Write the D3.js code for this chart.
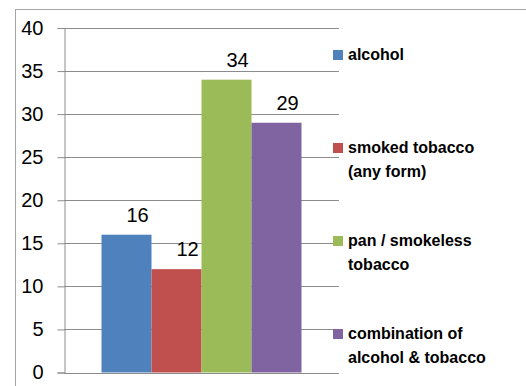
<!DOCTYPE html>
<html>
<head>
<meta charset="utf-8">
<script src="https://cdn.jsdelivr.net/npm/d3@7"></script>
<style>
  html, body { margin: 0; padding: 0; background: #fff; }
  svg { display: block; }
</style>
</head>
<body>
<div id="chart"></div>
<script>
// Share of cases by type of substance use
const categories = ["Substance use"];
const seriesNames = ["alcohol", "smoked tobacco (any form)", "pan / smokeless tobacco", "combination of alcohol & tobacco"];
const legendLines = [["alcohol"], ["smoked tobacco", "(any form)"], ["pan / smokeless", "tobacco"], ["combination of", "alcohol & tobacco"]];
const seriesValues = [16, 12, 34, 29];
const seriesColors = ["#4F81BD", "#C0504D", "#9BBB59", "#8064A2"];
const yTicks = [0, 5, 10, 15, 20, 25, 30, 35, 40];

const W = 526, H = 386;
const plot = { left: 64, right: 339, top: 28, bottom: 372.5 };

const svg = d3.select("#chart").append("svg")
  .attr("width", W).attr("height", H);

// Chart frame
svg.append("rect")
  .attr("x", 15.5).attr("y", 9.5)
  .attr("width", W).attr("height", H)
  .attr("fill", "#fff").attr("stroke", "#a6a6a6").attr("stroke-width", 1);

const y = d3.scaleLinear().domain([0, 40]).range([plot.bottom, plot.top]);

const x0 = d3.scaleBand().domain(categories)
  .range([plot.left, plot.right]).paddingInner(0).paddingOuter(0.1875);
const x1 = d3.scaleBand().domain(seriesNames)
  .range([0, x0.bandwidth()]).padding(0);

// Horizontal gridlines
svg.append("g").selectAll("line").data(yTicks.filter(t => t > 0)).join("line")
  .attr("x1", plot.left).attr("x2", plot.right)
  .attr("y1", d => Math.round(y(d)) + 0.5).attr("y2", d => Math.round(y(d)) + 0.5)
  .attr("stroke", "#8c8c8c").attr("stroke-width", 1);

// Value axis with outward ticks
const yAxis = d3.axisLeft(y).tickValues(yTicks).tickSize(7).tickPadding(14);
const yg = svg.append("g")
  .attr("transform", `translate(${plot.left + 0.5},0)`)
  .call(yAxis);
yg.select(".domain").attr("stroke", "#8c8c8c");
yg.selectAll(".tick line").attr("stroke", "#8c8c8c");
yg.selectAll(".tick text")
  .attr("fill", "#000")
  .style("font-family", "'Liberation Sans', Arial, sans-serif")
  .style("font-size", "20px");

// Bars
const g = svg.append("g").attr("transform", `translate(${x0(categories[0])},0)`);
g.selectAll("rect").data(seriesValues).join("rect")
  .attr("x", (d, i) => x1(seriesNames[i]))
  .attr("y", d => y(d))
  .attr("width", x1.bandwidth())
  .attr("height", d => y(0) - y(d))
  .attr("fill", (d, i) => seriesColors[i]);

// Category baseline
svg.append("line")
  .attr("x1", plot.left).attr("x2", plot.right)
  .attr("y1", Math.round(y(0)) + 0.5).attr("y2", Math.round(y(0)) + 0.5)
  .attr("stroke", "#8c8c8c");

// Value labels
g.selectAll("text.val").data(seriesValues).join("text")
  .attr("class", "val")
  .attr("x", (d, i) => x1(seriesNames[i]) + x1.bandwidth() / 2 + 11)
  .attr("y", d => y(d) - 13)
  .attr("text-anchor", "middle")
  .style("font-family", "'Liberation Sans', Arial, sans-serif")
  .style("font-size", "20px")
  .attr("fill", "#000")
  .text(d => d);

// Legend
const legendTop = [50, 143, 236, 329];
const lg = svg.append("g");
seriesNames.forEach((name, i) => {
  const item = lg.append("g").attr("transform", `translate(333,${legendTop[i]})`);
  item.append("rect").attr("width", 10).attr("height", 10).attr("fill", seriesColors[i]);
  const t = item.append("text")
    .attr("x", 15).attr("y", 10)
    .style("font-family", "'Liberation Sans', Arial, sans-serif")
    .style("font-size", "16px").style("font-weight", "bold")
    .attr("fill", "#000");
  legendLines[i].forEach((ln, j) => {
    t.append("tspan").attr("x", 15).attr("dy", j === 0 ? 0 : 23.5).text(ln);
  });
});
</script>
</body>
</html>
